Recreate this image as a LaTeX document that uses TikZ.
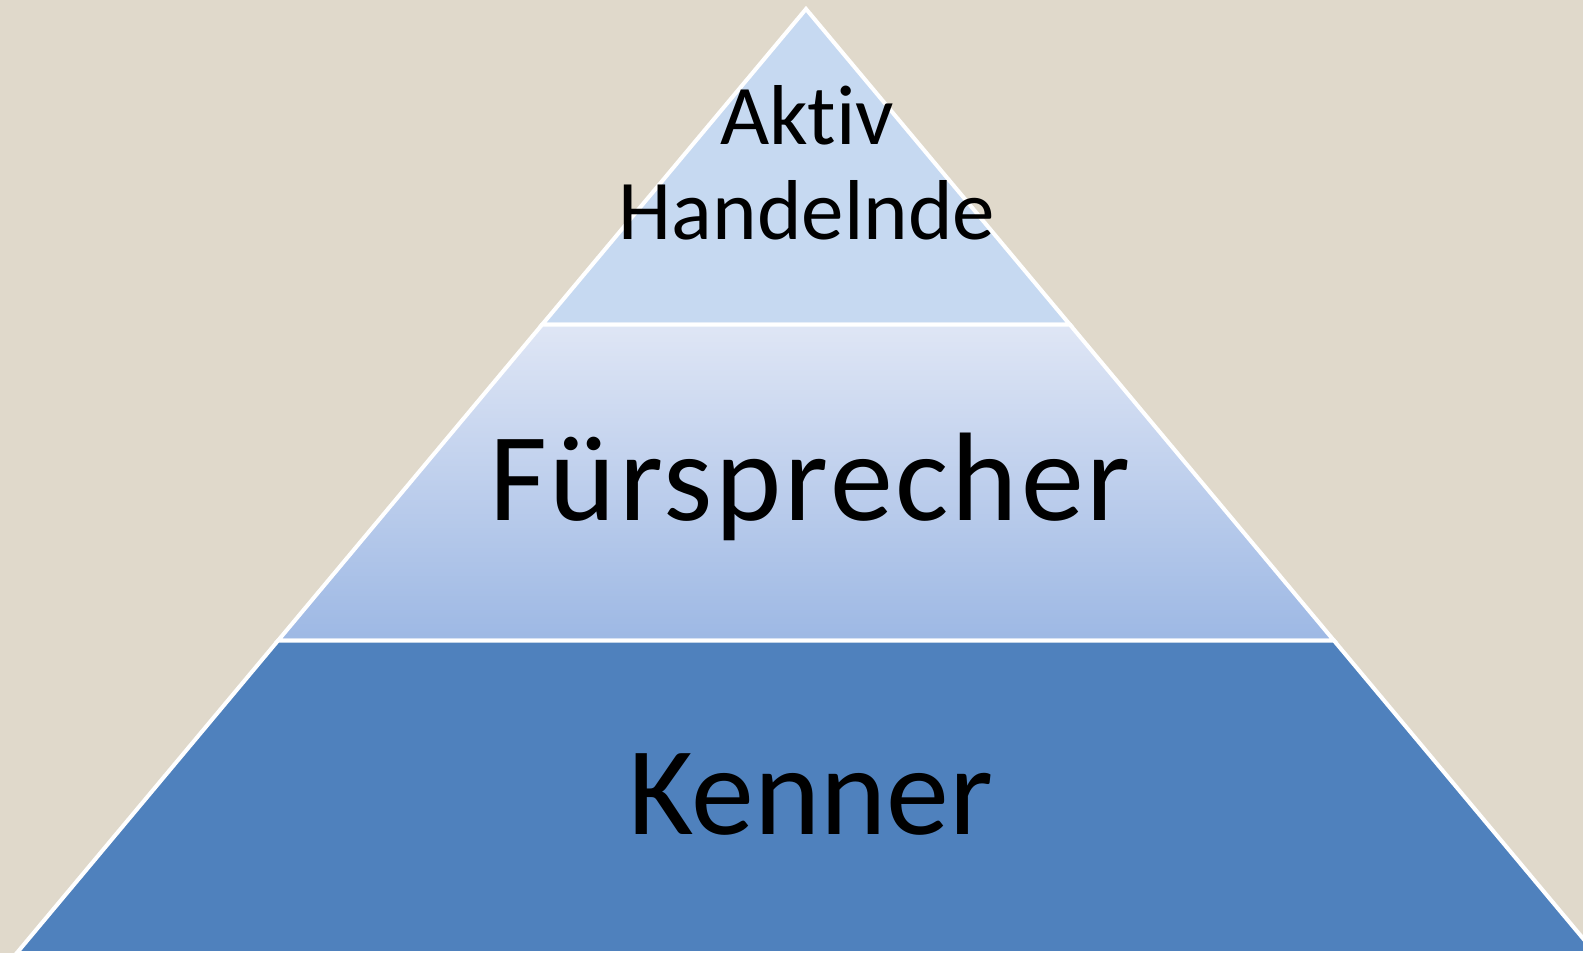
\documentclass[tikz,border=0pt]{standalone}
\usepackage{fontspec}
\setmainfont[Ligatures=NoCommon]{Carlito}
\usepackage{tikz}
\definecolor{bgbeige}{HTML}{E0D9CB}
\definecolor{topblue}{HTML}{C6D9F1}
\definecolor{midtop}{HTML}{DFE6F5}
\definecolor{midbottom}{HTML}{9DB8E4}
\definecolor{basblue}{HTML}{4F81BD}
\tikzset{
	tier/.style={draw=white, line width=4pt, line join=miter},
	bigtext/.style={anchor=base, font=\fontsize{126}{134}\selectfont},
	smalltext/.style={anchor=base, font=\fontsize{85}{95}\selectfont}
}

\begin{document}
\begin{tikzpicture}[x=1pt, y=-1pt]
						\useasboundingbox (0, 0) rectangle (1583, 953);
						\clip (0, 0) rectangle (1583, 953);
						\fill[bgbeige] (0, 0) rectangle (1583, 953);
						% apex and tier borders
						\coordinate (top) at (806, 9);
						\coordinate (l1) at (542.2, 324.5);
						\coordinate (r1) at (1069.8, 324.5);
						\coordinate (l2) at (278.1, 640.5);
						\coordinate (r2) at (1333.9, 640.5);
						\coordinate (l3) at (16.8, 953);
						\coordinate (r3) at (1595.2, 953);
						\draw[tier, fill=topblue] (top) -- (r1) -- (l1) -- cycle;
						\draw[tier, top color=midtop, bottom color=midbottom] (l1) -- (r1) -- (r2) -- (l2) -- cycle;
						\draw[tier, fill=basblue] (l2) -- (r2) -- (r3) -- (l3) -- cycle;
						\node[smalltext] (aktiv) at (807, 144) {Aktiv};
						\node[smalltext] (handelnde) at (807, 239) {Handelnde};
						\node[bigtext] (fuer) at (810, 520) {\addfontfeature{LetterSpace=2.3}Fürsprecher};
						\node[bigtext] (kenner) at (811, 834) {Kenner};
					\end{tikzpicture}
\end{document}
